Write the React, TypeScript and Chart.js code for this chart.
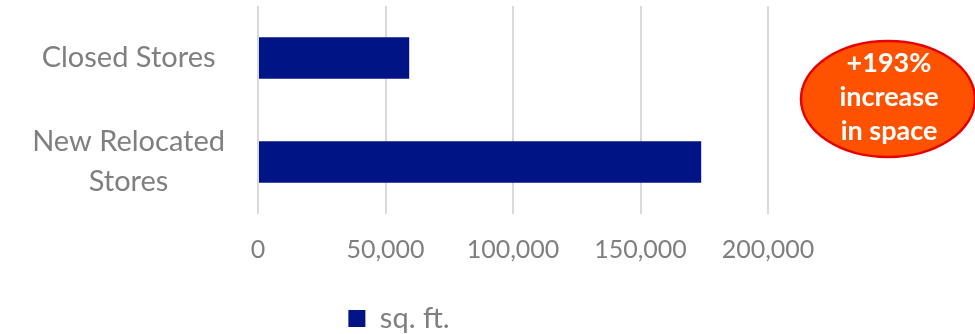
import React, { useEffect, useRef } from "react";
import { Chart, registerables } from "chart.js";

Chart.register(...registerables);

const categoryLabels: string[][] = [["Closed Stores"], ["New Relocated", "Stores"]];
const seriesName = "sq. ft.";
const sqftValues = [59300, 173800];
const xMin = 0;
const xMax = 200000;
const xStep = 50000;
const calloutLines = ["+193%", "increase", "in space"];

const FONT = "Lato, 'Open Sans', sans-serif";
const GRAY = "#7f7f7f";
const BAR = "#001486";

const calloutPlugin = {
  id: "callout",
  afterDraw(chart: any) {
    const ctx = chart.ctx as CanvasRenderingContext2D;
    const cx = chart.chartArea.right + 120;
    const cy = 99;
    ctx.save();
    ctx.beginPath();
    ctx.ellipse(cx, cy, 87, 58, 0, 0, Math.PI * 2);
    ctx.fillStyle = "#FF5200";
    ctx.fill();
    ctx.lineWidth = 2.5;
    ctx.strokeStyle = "#E80000";
    ctx.stroke();
    ctx.fillStyle = "#ffffff";
    ctx.font = `bold 27px ${FONT}`;
    ctx.textAlign = "center";
    ctx.textBaseline = "middle";
    calloutLines.forEach((line, i) => {
      ctx.fillText(line, cx + 1, 63 + i * 34);
    });
    ctx.restore();
  },
};

export default function App() {
  const canvasRef = useRef<HTMLCanvasElement | null>(null);

  useEffect(() => {
    document.body.style.margin = "0";
    const canvas = canvasRef.current;
    if (!canvas) return;
    const chart = new Chart(canvas, {
      type: "bar",
      data: {
        labels: categoryLabels,
        datasets: [
          {
            label: seriesName,
            data: sqftValues,
            backgroundColor: BAR,
            borderWidth: 0,
            barPercentage: 0.4,
            categoryPercentage: 1.0,
          },
        ],
      },
      options: {
        indexAxis: "y",
        responsive: false,
        animation: false,
        layout: { padding: { left: 30, right: 207, top: 6, bottom: -9 } },
        scales: {
          x: {
            min: xMin,
            max: xMax,
            afterFit: (scale: any) => {
              scale.height = 76;
            },
            ticks: {
              stepSize: xStep,
              color: GRAY,
              padding: 21,
              font: { family: FONT, size: 25 },
              callback: (v: any) => Number(v).toLocaleString("en-US"),
            },
            grid: { color: "#d9d9d9", lineWidth: 2, drawTicks: false },
            border: { display: false },
          },
          y: {
            afterFit: (scale: any) => {
              scale.width = 228;
              scale.paddingTop = 0;
              scale.paddingBottom = 0;
            },
            ticks: {
              color: GRAY,
              crossAlign: "center",
              autoSkip: false,
              padding: 33,
              font: { family: FONT, size: 29, lineHeight: 1.38 },
            },
            grid: { display: false, drawTicks: false },
            border: { display: false },
          },
        },
        plugins: {
          legend: {
            position: "bottom",
            labels: {
              color: GRAY,
              boxWidth: 17,
              boxHeight: 17,
              padding: 14,
              font: { family: FONT, size: 29 },
            },
          },
          tooltip: { enabled: false },
        },
      },
      plugins: [calloutPlugin],
    });
    return () => chart.destroy();
  }, []);

  return (
    <div style={{ width: 975, height: 334, background: "#fff" }}>
      <canvas ref={canvasRef} width={975} height={334} />
    </div>
  );
}
